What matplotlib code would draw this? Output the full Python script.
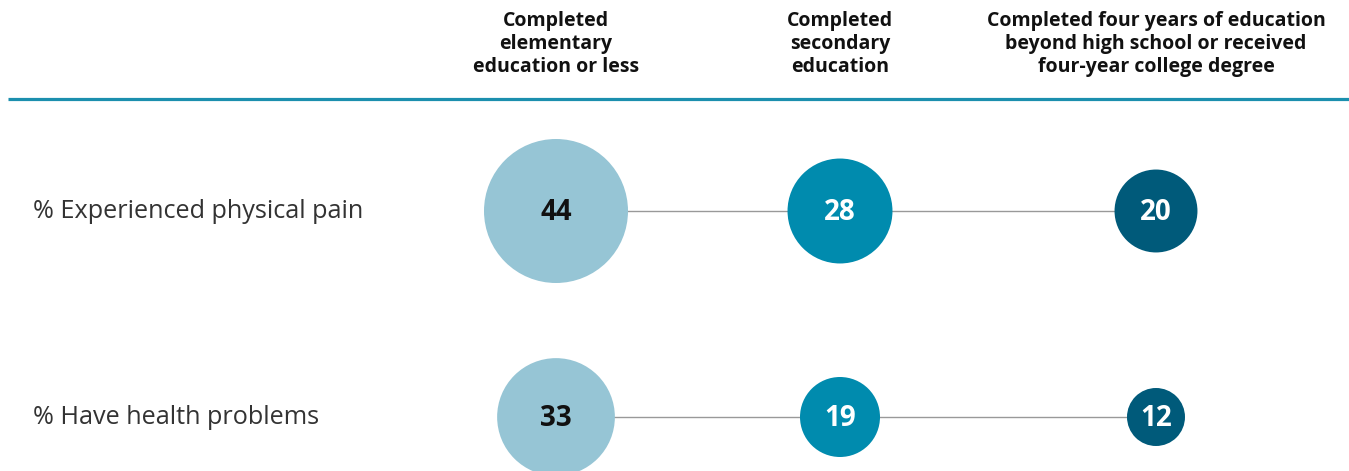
import matplotlib
matplotlib.use("Agg")
import matplotlib.pyplot as plt
from matplotlib.patches import Circle

plt.rcParams['font.family'] = ['Open Sans', 'DejaVu Sans']

# data
groups = ["Completed\nelementary\neducation or less",
          "Completed\nsecondary\neducation",
          "Completed four years of education\nbeyond high school or received\nfour-year college degree"]
measures = ["% Experienced physical pain", "% Have health problems"]
pain = [44, 28, 20]
health = [33, 19, 12]
values = [pain, health]

colors = ["#96c5d5", "#008bae", "#005a7a"]
text_colors = ["#111111", "white", "white"]

W, H = 1349, 471
fig = plt.figure(figsize=(W / 100, H / 100), dpi=100)
ax = fig.add_axes([0, 0, 1, 1])
ax.set_xlim(0, W)
ax.set_ylim(H, 0)
ax.axis("off")

col_x = [556, 840, 1156]
row_y = [211, 417]

# radius scale (fitted on the largest bubble)
def radius(v):
    return 72 * (v / 44) ** 0.7

# header
for x, g in zip(col_x, groups):
    ax.text(x, 44, g, ha="center", va="center", fontsize=14, fontweight="bold",
            color="#111111", linespacing=1.22)
ax.plot([8, W], [99, 99], color="#1b8fae", lw=2.3, solid_capstyle="butt")

for y, m, vals in zip(row_y, measures, values):
    ax.text(33, y + 1, m, ha="left", va="center", fontsize=18.2, color="#333333")
    ax.plot([col_x[0], col_x[-1]], [y, y], color="#999999", lw=1, zorder=1)
    for x, v, c, tc in zip(col_x, vals, colors, text_colors):
        ax.add_patch(Circle((x, y), radius(v), color=c, zorder=2, lw=0))
        ax.text(x, y + 1, str(v), ha="center", va="center", fontsize=20,
                fontweight="bold", color=tc, zorder=3)

fig.savefig("out.png", dpi=100)
